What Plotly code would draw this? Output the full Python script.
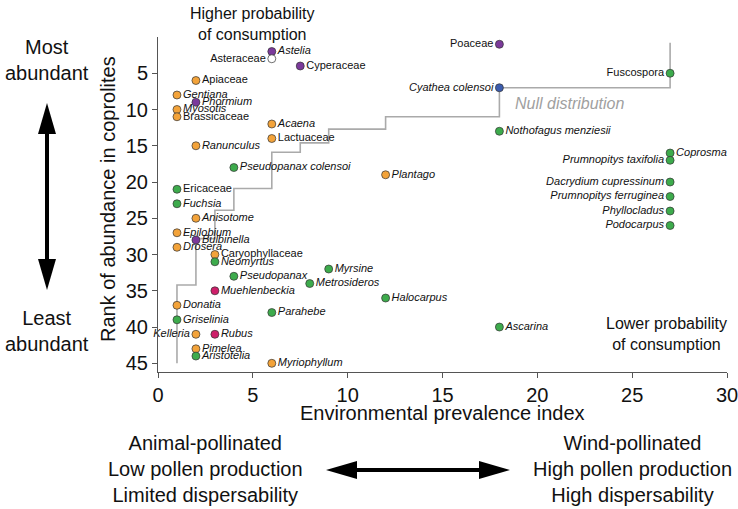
import plotly.graph_objects as go

# ---------------- data ----------------
taxa = ["Poaceae", "Astelia", "Asteraceae", "Cyperaceae", "Fuscospora", "Apiaceae",
        "Cyathea colensoi", "Gentiana", "Phormium", "Myosotis", "Brassicaceae", "Acaena",
        "Nothofagus menziesii", "Lactuaceae", "Ranunculus", "Coprosma", "Prumnopitys taxifolia",
        "Pseudopanax colensoi", "Plantago", "Dacrydium cupressinum", "Ericaceae",
        "Prumnopitys ferruginea", "Fuchsia", "Phyllocladus", "Anisotome", "Podocarpus",
        "Epilobium", "Bulbinella", "Drosera", "Caryophyllaceae", "Neomyrtus", "Myrsine",
        "Pseudopanax", "Metrosideros", "Muehlenbeckia", "Halocarpus", "Donatia", "Parahebe",
        "Griselinia", "Ascarina", "Kelleria", "Rubus", "Pimelea", "Aristotelia", "Myriophyllum"]
env_index = [18, 6, 6, 7.5, 27, 2,
             18, 1, 2, 1, 1, 6,
             18, 6, 2, 27, 27,
             4, 12, 27, 1,
             27, 1, 27, 2, 27,
             1, 2, 1, 3, 3, 9,
             4, 8, 3, 12, 1, 6,
             1, 18, 2, 3, 2, 2, 6]
rank = [1, 2, 3, 4, 5, 6,
        7, 8, 9, 10, 11, 12,
        13, 14, 15, 16, 17,
        18, 19, 20, 21,
        22, 23, 24, 25, 26,
        27, 28, 29, 30, 31, 32,
        33, 34, 35, 36, 37, 38,
        39, 40, 41, 41, 43, 44, 45]
group = ["purple", "purple", "open", "purple", "green", "orange",
         "blue", "orange", "purple", "orange", "orange", "orange",
         "green", "orange", "orange", "green", "green",
         "green", "orange", "green", "green",
         "green", "green", "green", "orange", "green",
         "orange", "purple", "orange", "orange", "green", "green",
         "green", "green", "crimson", "green", "orange", "green",
         "green", "green", "orange", "crimson", "orange", "green", "orange"]
label_side = ["left", "right", "left", "right", "left", "right",
              "left", "right", "right", "right", "right", "right",
              "right", "right", "right", "right", "left",
              "right", "right", "left", "right",
              "left", "right", "left", "right", "left",
              "right", "right", "right", "right", "right", "right",
              "right", "right", "right", "right", "right", "right",
              "right", "right", "left", "right", "right", "right", "right"]
upright = {"Poaceae", "Asteraceae", "Cyperaceae", "Fuscospora", "Apiaceae", "Brassicaceae",
           "Lactuaceae", "Ericaceae", "Caryophyllaceae"}

# null distribution step curve
null_x = [1, 2, 3, 4, 6, 7.5, 9, 12, 18, 27, 27]
null_y = [45, 34.2, 27.8, 23.9, 20.9, 15.9, 14.6, 12.7, 11, 7, 0.8]

x_ticks = [0, 5, 10, 15, 20, 25, 30]
y_ticks = [5, 10, 15, 20, 25, 30, 35, 40, 45]

# ---------------- styling ----------------
palette = {"orange": "#F3A33A", "green": "#3DAB4C", "purple": "#7B3A9B",
           "blue": "#3B5CAE", "crimson": "#CE1F6A", "open": "#FFFFFF"}
FONT = "Liberation Sans, Arial, sans-serif"

labels = [t if t in upright else "<i>%s</i>" % t for t in taxa]
positions = ["middle right" if s == "right" else "middle left" for s in label_side]
colors = [palette[g] for g in group]

fig = go.Figure()
fig.add_trace(go.Scatter(x=null_x, y=null_y, mode="lines", line_shape="vh",
                         line=dict(color="#AAAAAA", width=1.6), hoverinfo="skip",
                         showlegend=False))
fig.add_trace(go.Scatter(x=env_index, y=rank, mode="markers+text", text=labels,
                         textposition=positions,
                         textfont=dict(family=FONT, size=11, color="#111111"),
                         marker=dict(size=8, color=colors, line=dict(color="#333333", width=0.7)),
                         cliponaxis=False, showlegend=False))

L, R, T, B = 158, 11, 37, 137
W, H = 738, 509
pw, ph = W - L - R, H - T - B


def pxx(p):
    return (p - L) / pw


def pxy(p):
    return (H - B - p) / ph


ann = []
def txt(x, y, s, size, color="#111111", angle=0, italic=False):
    if italic:
        s = "<i>%s</i>" % s
    ann.append(dict(x=pxx(x), y=pxy(y), xref="paper", yref="paper", text=s, showarrow=False,
                    xanchor="center", yanchor="middle", textangle=angle,
                    font=dict(family=FONT, size=size, color=color)))

txt(252, 24, "Higher probability<br>of consumption", 16)
txt(666, 334, "Lower probability<br>of consumption", 16)
txt(569, 103, "Null distribution", 16, color="#A0A0A0", italic=True)
txt(47, 60, "Most<br>abundant", 20)
txt(47, 331, "Least<br>abundant", 20)
txt(108, 199, "Rank of abundance in coprolites", 20, angle=-90)
txt(442, 413, "Environmental prevalence index", 20)
txt(205, 469, "Animal-pollinated<br>Low pollen production<br>Limited dispersability", 20)
txt(632, 469, "Wind-pollinated<br>High pollen production<br>High dispersability", 20)

shapes = []
# vertical double arrow
ax_, top, bot, hl, hw = 47, 103, 290, 31, 9
shapes.append(dict(type="line", xref="paper", yref="paper", x0=pxx(ax_), x1=pxx(ax_),
                   y0=pxy(top + hl - 2), y1=pxy(bot - hl + 2), line=dict(color="black", width=4)))
shapes.append(dict(type="path", xref="paper", yref="paper", fillcolor="black", line=dict(width=0),
                   path="M %f %f L %f %f L %f %f Z" % (pxx(ax_), pxy(top), pxx(ax_ - hw), pxy(top + hl),
                                                      pxx(ax_ + hw), pxy(top + hl))))
shapes.append(dict(type="path", xref="paper", yref="paper", fillcolor="black", line=dict(width=0),
                   path="M %f %f L %f %f L %f %f Z" % (pxx(ax_), pxy(bot), pxx(ax_ - hw), pxy(bot - hl),
                                                      pxx(ax_ + hw), pxy(bot - hl))))
# horizontal double arrow
ay_, lft, rgt = 470, 326, 510
shapes.append(dict(type="line", xref="paper", yref="paper", x0=pxx(lft + hl - 2), x1=pxx(rgt - hl + 2),
                   y0=pxy(ay_), y1=pxy(ay_), line=dict(color="black", width=4)))
shapes.append(dict(type="path", xref="paper", yref="paper", fillcolor="black", line=dict(width=0),
                   path="M %f %f L %f %f L %f %f Z" % (pxx(lft), pxy(ay_), pxx(lft + hl), pxy(ay_ - hw),
                                                      pxx(lft + hl), pxy(ay_ + hw))))
shapes.append(dict(type="path", xref="paper", yref="paper", fillcolor="black", line=dict(width=0),
                   path="M %f %f L %f %f L %f %f Z" % (pxx(rgt), pxy(ay_), pxx(rgt - hl), pxy(ay_ - hw),
                                                      pxx(rgt - hl), pxy(ay_ + hw))))

axis_common = dict(showgrid=False, zeroline=False, showline=True, linecolor="#555555",
                   linewidth=1, ticks="outside", ticklen=5, tickcolor="#555555",
                   ticklabeloverflow="allow",
                   tickfont=dict(family=FONT, size=20, color="#111111"))

fig.update_layout(
    width=W, height=H, margin=dict(l=L, r=R, t=T, b=B, autoexpand=False),
    paper_bgcolor="white", plot_bgcolor="white",
    xaxis=dict(range=[0, 30], tickvals=x_ticks, **axis_common),
    yaxis=dict(range=[46.2, 0], tickvals=y_ticks, **axis_common),
    annotations=ann, shapes=shapes,
    font=dict(family=FONT),
)

fig.write_html("out.html", config={"displayModeBar": False},
               post_script="document.body.style.margin='0';document.body.style.overflow='hidden';")
